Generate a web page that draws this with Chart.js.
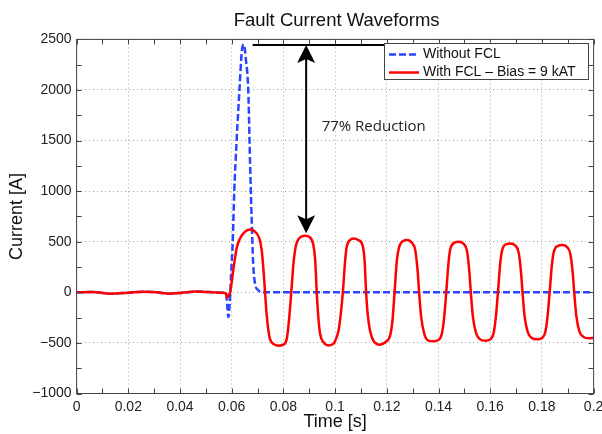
<!DOCTYPE html>
<html>
<head>
<meta charset="utf-8">
<script src="https://cdn.jsdelivr.net/npm/chart.js@4.4.1/dist/chart.umd.min.js"></script>
<style>
  html, body { margin: 0; padding: 0; background: #fff; }
  #wrap { width: 602px; height: 434px; }
</style>
</head>
<body>
<div id="wrap"><canvas id="chart" width="602" height="434"></canvas></div>
<script>
const chartTitle = "Fault Current Waveforms";
const xTitle = "Time [s]";
const yTitle = "Current [A]";
const seriesLabels = ["Without FCL", "With FCL \u2013 Bias = 9 kAT"];

// With FCL (red), time [s] / current [A]
const tWith = [
  0, 0.006, 0.013, 0.02, 0.026, 0.031, 0.036, 0.041, 0.046, 0.051, 0.0565, 0.0578, 0.0582, 0.0588, 0.0594,
  0.0600, 0.0606, 0.0619, 0.0632, 0.0652, 0.0671, 0.0690, 0.0707, 0.0716, 0.0723, 0.0729,
  0.0735, 0.0742, 0.0748, 0.0761, 0.0781, 0.0800, 0.0813, 0.0819, 0.0826,
  0.0832, 0.0839, 0.0849, 0.0865, 0.0884, 0.0903, 0.0916, 0.0923, 0.0929,
  0.0935, 0.0942, 0.0955, 0.0974, 0.0995, 0.1005, 0.1014, 0.1022,
  0.1030, 0.1039, 0.1045, 0.1058, 0.1071, 0.1090, 0.1106, 0.1114, 0.1120,
  0.1126, 0.1135, 0.1148, 0.1174, 0.1194, 0.1213, 0.1222,
  0.1230, 0.1239, 0.1248, 0.1265, 0.1277, 0.1297, 0.1310, 0.1319, 0.1325,
  0.1333, 0.1345, 0.1361, 0.1381, 0.1400, 0.1413, 0.1422,
  0.1430, 0.1439, 0.1446, 0.1462, 0.1478, 0.1497, 0.1510, 0.1519, 0.1525,
  0.1533, 0.1545, 0.1561, 0.1581, 0.1600, 0.1613, 0.1622,
  0.1630, 0.1639, 0.1646, 0.1662, 0.1678, 0.1697, 0.1710, 0.1719, 0.1725,
  0.1733, 0.1745, 0.1761, 0.1781, 0.1800, 0.1813, 0.1822,
  0.1830, 0.1839, 0.1846, 0.1862, 0.1878, 0.1897, 0.1910, 0.1919, 0.1925,
  0.1933, 0.1945, 0.1961, 0.1981, 0.2000
];
const iWith = [
  0, 4, -14, -4, 6, 0, -14, -3, 7, 3, -4, -12, -55, -30, 0,
  100, 219, 434, 533, 600, 620, 600, 533, 417, 219, 0,
  -212, -377, -460, -510, -527, -517, -460, -344, -146,
  53, 285, 467, 543, 560, 543, 467, 318, 0,
  -245, -410, -493, -525, -505, -450, -370, -212,
  0, 318, 450, 517, 533, 517, 467, 318, 0,
  -212, -377, -477, -517, -493, -427, -278,
  0, 318, 450, 510, 517, 490, 417, 219, 0,
  -245, -410, -477, -483, -470, -410, -245,
  0, 300, 430, 490, 500, 480, 410, 215, 0,
  -240, -400, -465, -478, -465, -405, -240,
  0, 290, 415, 475, 483, 463, 395, 205, 0,
  -235, -390, -452, -465, -452, -395, -235,
  0, 280, 400, 458, 467, 448, 380, 200, 0,
  -230, -385, -440, -455, -448
];

// Without FCL (blue dashed)
const tWithout = [
  0, 0.006, 0.013, 0.02, 0.026, 0.031, 0.036, 0.041, 0.046, 0.051, 0.0565, 0.0578,
  0.0583, 0.0587, 0.0592, 0.0598, 0.0604, 0.0610, 0.0619, 0.0630, 0.0639, 0.0647,
  0.0655, 0.0664, 0.0671, 0.0677, 0.0683, 0.0690, 0.0703, 0.0716, 0.2
];
const iWithout = [
  0, 4, -14, -4, 6, 0, -14, -3, 7, 3, -4, -12,
  -140, -245, -120, 200, 500, 1000, 1500, 2000, 2380, 2450,
  2300, 2000, 1280, 744, 290, 90, 20, 0, 0
];

// "77% Reduction" marker, in data units
const reductionText = "77% Reduction";
const barT = [0.0681, 0.1201];
const barI = 2445;
const arrowT = 0.0888;
const arrowI = [2445, 585];
const labelAt = [0.0948, 1633];

const FONT = "'Liberation Sans', Arial, Helvetica, sans-serif";
const RED = "rgb(255,0,0)";
const BLUE = "rgb(40,70,255)";

function toPoints(ts, vs) {
  return ts.map((t, k) => ({ x: t, y: vs[k] }));
}

function arrowHead(ctx, x, tipY, dir) {
  ctx.beginPath();
  ctx.moveTo(x, tipY);
  ctx.lineTo(x - 9, tipY + dir * 18);
  ctx.lineTo(x, tipY + dir * 14);
  ctx.lineTo(x + 9, tipY + dir * 18);
  ctx.closePath();
  ctx.fill();
}

const matlabAxes = {
  id: "matlabAxes",
  afterDatasetsDraw(chart) {
    const { ctx, chartArea: a, scales: { x, y } } = chart;
    ctx.save();

    // box + inward ticks
    ctx.strokeStyle = "#444";
    ctx.lineWidth = 1;
    ctx.strokeRect(a.left, a.top, a.right - a.left, a.bottom - a.top);
    ctx.beginPath();
    for (let k = 0; k <= 20; k++) {
      const px = Math.round(x.getPixelForValue(k * 0.01)) + 0.5;
      ctx.moveTo(px, a.bottom); ctx.lineTo(px, a.bottom - 5);
      ctx.moveTo(px, a.top); ctx.lineTo(px, a.top + 5);
    }
    for (let v = -1000; v <= 2500; v += 250) {
      const py = Math.round(y.getPixelForValue(v)) + 0.5;
      ctx.moveTo(a.left, py); ctx.lineTo(a.left + 5, py);
      ctx.moveTo(a.right, py); ctx.lineTo(a.right - 5, py);
    }
    ctx.stroke();

    // reduction marker
    ctx.strokeStyle = "#000";
    ctx.fillStyle = "#000";
    ctx.lineWidth = 2;
    const yb = y.getPixelForValue(barI);
    ctx.beginPath();
    ctx.moveTo(x.getPixelForValue(barT[0]), yb);
    ctx.lineTo(x.getPixelForValue(barT[1]), yb);
    ctx.stroke();
    const ax = x.getPixelForValue(arrowT);
    const y1 = y.getPixelForValue(arrowI[0]);
    const y2 = y.getPixelForValue(arrowI[1]);
    ctx.beginPath();
    ctx.moveTo(ax, y1 + 12);
    ctx.lineTo(ax, y2 - 12);
    ctx.stroke();
    arrowHead(ctx, ax, y1, 1);
    arrowHead(ctx, ax, y2, -1);
    ctx.font = "15px 'Open Sans', sans-serif";
    ctx.fillStyle = "#222";
    ctx.textAlign = "left";
    ctx.textBaseline = "middle";
    ctx.fillText(reductionText, x.getPixelForValue(labelAt[0]), y.getPixelForValue(labelAt[1]));

    // title over the axes
    ctx.font = "18.5px " + FONT;
    ctx.fillStyle = "#111";
    ctx.textAlign = "center";
    ctx.textBaseline = "alphabetic";
    ctx.fillText(chartTitle, (a.left + a.right) / 2 + 1.5, 26);

    // legend
    const lx = 384.5, ly = 43.5, lw = 204, lh = 36;
    ctx.fillStyle = "#fff";
    ctx.fillRect(lx, ly, lw, lh);
    ctx.strokeStyle = "#444";
    ctx.lineWidth = 1;
    ctx.strokeRect(lx, ly, lw, lh);
    const rows = [
      { label: seriesLabels[0], color: BLUE, dash: [7, 3], y: 54.5 },
      { label: seriesLabels[1], color: RED, dash: [], y: 72.5 }
    ];
    ctx.font = "14px " + FONT;
    ctx.textAlign = "left";
    ctx.textBaseline = "middle";
    rows.forEach((r) => {
      ctx.strokeStyle = r.color;
      ctx.lineWidth = 2.5;
      ctx.setLineDash(r.dash);
      ctx.beginPath();
      ctx.moveTo(389, r.y); ctx.lineTo(419, r.y);
      ctx.stroke();
      ctx.setLineDash([]);
      ctx.fillStyle = "#111";
      ctx.fillText(r.label, 423, r.y);
    });
    ctx.restore();
  }
};

new Chart(document.getElementById("chart"), {
  type: "line",
  data: {
    datasets: [
      {
        label: seriesLabels[1], data: toPoints(tWith, iWith), order: 0,
        borderColor: RED, borderWidth: 2.5, pointRadius: 0, cubicInterpolationMode: "monotone", fill: false
      },
      {
        label: seriesLabels[0], data: toPoints(tWithout, iWithout), order: 1,
        borderColor: BLUE, borderWidth: 2.5, borderDash: [7, 3], pointRadius: 0, cubicInterpolationMode: "monotone", fill: false
      }
    ]
  },
  options: {
    responsive: false,
    animation: false,
    devicePixelRatio: 1,
    layout: { padding: { top: 39.4, right: 8.4, bottom: 0, left: 0 } },
    plugins: { legend: { display: false }, tooltip: { enabled: false }, title: { display: false } },
    scales: {
      x: {
        type: "linear", min: 0, max: 0.2,
        ticks: { stepSize: 0.02, padding: 5, color: "#222", font: { family: FONT, size: 14 },
          callback: (v) => String(+v.toFixed(4)) },
        grid: { color: "rgba(0,0,0,0.35)", drawTicks: false },
        border: { display: false, dash: [1, 3] },
        title: { display: true, text: xTitle, color: "#111", font: { family: FONT, size: 18 }, padding: { top: 0, bottom: 1.5 } },
        afterFit(s) { s.height = 40.5; s.paddingLeft = 0; s.paddingRight = 0; }
      },
      y: {
        min: -1000, max: 2500,
        ticks: { stepSize: 500, padding: 5, color: "#222", font: { family: FONT, size: 14 },
          callback: (v) => String(v).replace("-", "\u2212") },
        grid: { color: "rgba(0,0,0,0.35)", drawTicks: false },
        border: { display: false, dash: [1, 3] },
        title: { display: true, text: yTitle, color: "#111", font: { family: FONT, size: 18 }, padding: { top: 6, bottom: 0 } },
        afterFit(s) { s.width = 76.6; s.paddingTop = 0; s.paddingBottom = 0; }
      }
    }
  },
  plugins: [matlabAxes]
});
</script>
</body>
</html>
